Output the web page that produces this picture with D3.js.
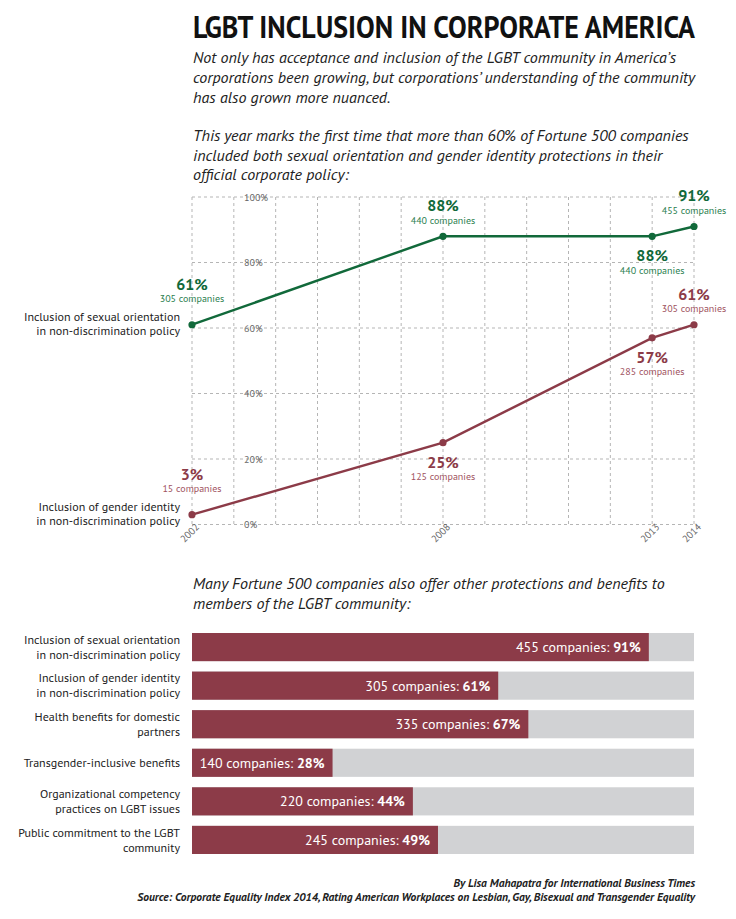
<!DOCTYPE html>
<html>
<head>
<meta charset="utf-8">
<script src="https://cdnjs.cloudflare.com/ajax/libs/d3/7.8.5/d3.min.js"></script>
<style>
  html, body { margin: 0; padding: 0; background: #fff; }
  svg { display: block; }
  text { font-family: "PT Sans", Lato, "Open Sans", sans-serif; }
</style>
</head>
<body>
<div id="chart"></div>
<script>
// ---------- DATA ----------
const years = [2002, 2008, 2013, 2014];
const sexualOrientationPct = [61, 88, 88, 91];
const sexualOrientationCompanies = [305, 440, 440, 455];
const genderIdentityPct = [3, 25, 57, 61];
const genderIdentityCompanies = [15, 125, 285, 305];
const yTickValues = [0, 20, 40, 60, 80, 100];
const yearTickLabels = [2002, 2008, 2013, 2014];
const lineSeriesLabels = [
  ["Inclusion of sexual orientation", "in non-discrimination policy"],
  ["Inclusion of gender identity", "in non-discrimination policy"]
];

const benefitCategories = [
  ["Inclusion of sexual orientation", "in non-discrimination policy"],
  ["Inclusion of gender identity", "in non-discrimination policy"],
  ["Health benefits for domestic", "partners"],
  ["Transgender-inclusive benefits"],
  ["Organizational competency", "practices on LGBT issues"],
  ["Public commitment to the LGBT", "community"]
];
const benefitCompanies = [455, 305, 335, 140, 220, 245];
const benefitPct = [91, 61, 67, 28, 44, 49];

const titleText = "LGBT INCLUSION IN CORPORATE AMERICA";
const introLines = [
  "Not only has acceptance and inclusion of the LGBT community in America\u2019s",
  "corporations been growing, but corporations\u2019 understanding of the community",
  "has also grown more nuanced."
];
const introLines2 = [
  "This year marks the first time that more than 60% of Fortune 500 companies",
  "included both sexual orientation and gender identity protections in their",
  "official corporate policy:"
];
const barIntroLines = [
  "Many Fortune 500 companies also offer other protections and benefits to",
  "members of the LGBT community:"
];
const creditLines = [
  "By Lisa Mahapatra for International Business Times",
  "Source: Corporate Equality Index 2014, Rating American Workplaces on Lesbian, Gay, Bisexual and Transgender Equality"
];

// ---------- STYLE / LAYOUT ----------
const W = 736, H = 919;
const green = "#11693a", greenLight = "#2b8050";
const maroon = "#8c3b48", maroonLight = "#a0525e";
const svg = d3.select("#chart").append("svg").attr("width", W).attr("height", H);

// Title (horizontally condensed via transform so its box stays in view)
const titleG = svg.append("g");
const title = titleG.append("text").attr("x", 0).attr("y", 0)
  .attr("font-family", "'Liberation Sans Narrow', 'Roboto', sans-serif")
  .attr("font-weight", 700).attr("font-size", 31).attr("fill", "#111")
  .text(titleText);
const natW = title.node().getComputedTextLength() || 502;
titleG.attr("transform", `translate(193,38) scale(${Math.min(1, 502 / natW)},1)`);

function italicBlock(lines, y0, step) {
  lines.forEach((t, i) => {
    svg.append("text").attr("x", 193).attr("y", y0 + i * step)
      .attr("font-style", "italic").attr("font-size", 16).attr("fill", "#222")
      .text(t);
  });
}
italicBlock(introLines, 63, 20);
italicBlock(introLines2, 141, 19.5);
italicBlock(barIntroLines, 589, 20);

// ---------- LINE CHART ----------
const x = d3.scaleLinear().domain([2002, 2014]).range([192, 694]);
const y = d3.scaleLinear().domain([0, 100]).range([524.5, 197]);

const grid = svg.append("g").attr("stroke", "#b5b5b5").attr("stroke-dasharray", "3,3").attr("stroke-width", 1);
d3.range(2002, 2015).forEach(yr => {
  grid.append("line").attr("x1", x(yr)).attr("x2", x(yr)).attr("y1", y(100)).attr("y2", y(0));
});
yTickValues.forEach(v => {
  grid.append("line").attr("x1", x(2002)).attr("x2", x(2014)).attr("y1", y(v)).attr("y2", y(v));
});
const yAxis = d3.axisLeft(y).tickValues(yTickValues).tickFormat(d => d + "%").tickSize(0);
const yAxisG = svg.append("g").attr("transform", "translate(244,0)").call(yAxis);
yAxisG.select(".domain").remove();
yAxisG.selectAll("text").attr("x", 0).attr("text-anchor", "start")
  .attr("font-size", 10).attr("fill", "#666").attr("font-family", "'PT Sans', Lato, sans-serif");

const xAxis = d3.axisBottom(x).tickValues(yearTickLabels).tickFormat(d3.format("d")).tickSize(0);
const xAxisG = svg.append("g").attr("transform", `translate(0,${y(0)})`).call(xAxis);
xAxisG.select(".domain").remove();
xAxisG.selectAll("text").attr("text-anchor", "end").attr("x", 3).attr("y", 4).attr("dy", "0.35em")
  .attr("transform", "rotate(-45)")
  .attr("font-size", 10).attr("fill", "#666").attr("font-family", "'PT Sans', Lato, sans-serif");

const series = [
  { pct: sexualOrientationPct, comp: sexualOrientationCompanies, color: green, light: greenLight,
    place: ["above2002", "above", "below", "above"], label: lineSeriesLabels[0] },
  { pct: genderIdentityPct, comp: genderIdentityCompanies, color: maroon, light: maroonLight,
    place: ["above2002", "below", "below", "above"], label: lineSeriesLabels[1] }
];
const line = d3.line().x((d, i) => x(years[i])).y(d => y(d));
series.forEach(s => {
  svg.append("path").datum(s.pct).attr("d", line).attr("fill", "none")
    .attr("stroke", s.color).attr("stroke-width", 2.4);
  svg.selectAll(null).data(s.pct).enter().append("circle")
    .attr("cx", (d, i) => x(years[i])).attr("cy", d => y(d)).attr("r", 3.6).attr("fill", s.color);
  s.pct.forEach((v, i) => {
    const px = x(years[i]), py = y(v);
    let o1, o2;
    if (s.place[i] === "above") { o1 = -25; o2 = -12.5; }
    else if (s.place[i] === "above2002") { o1 = -35; o2 = -22.5; }
    else { o1 = 25; o2 = 37.5; }
    svg.append("text").attr("x", px).attr("y", py + o1).attr("text-anchor", "middle")
      .attr("font-weight", 700).attr("font-size", 16).attr("fill", s.color).text(v + "%");
    svg.append("text").attr("x", px).attr("y", py + o2).attr("text-anchor", "middle")
      .attr("font-size", 10).attr("fill", s.light).text(s.comp[i] + " companies");
  });
  const ly = y(s.pct[0]);
  s.label.forEach((t, j) => {
    svg.append("text").attr("x", 180).attr("y", ly - 4 + j * 14).attr("text-anchor", "end")
      .attr("font-size", 12).attr("fill", "#222").text(t);
  });
});

// ---------- BAR CHART ----------
const bx = d3.scaleLinear().domain([0, 100]).range([192, 694]);
const by = d3.scaleBand().domain(d3.range(benefitCategories.length)).range([628, 859]).paddingInner(0.27).paddingOuter(0.13);
const bars = svg.append("g");
benefitCategories.forEach((cat, i) => {
  const yy = by(i), h = by.bandwidth();
  bars.append("rect").attr("x", bx(0)).attr("y", yy).attr("width", bx(100) - bx(0)).attr("height", h).attr("fill", "#d1d2d4");
  bars.append("rect").attr("x", bx(0)).attr("y", yy).attr("width", bx(benefitPct[i]) - bx(0)).attr("height", h).attr("fill", maroon);
  const t = bars.append("text").attr("x", bx(benefitPct[i]) - 8).attr("y", yy + h / 2).attr("dy", "0.36em")
    .attr("text-anchor", "end").attr("font-size", 14).attr("fill", "#fff");
  t.append("tspan").text(benefitCompanies[i] + " companies: ");
  t.append("tspan").attr("font-weight", 700).text(benefitPct[i] + "%");
  const n = cat.length;
  cat.forEach((line, j) => {
    bars.append("text").attr("x", 180).attr("y", yy + h / 2 + (j - (n - 1) / 2) * 15).attr("dy", "0.35em")
      .attr("text-anchor", "end").attr("font-size", 12).attr("fill", "#222").text(line);
  });
});

// ---------- CREDITS ----------
creditLines.forEach((t, i) => {
  svg.append("text").attr("x", 695).attr("y", 887 + i * 14).attr("text-anchor", "end")
    .attr("font-style", "italic").attr("font-weight", 700).attr("font-size", 11.5).attr("fill", "#222").text(t);
});
</script>
</body>
</html>
